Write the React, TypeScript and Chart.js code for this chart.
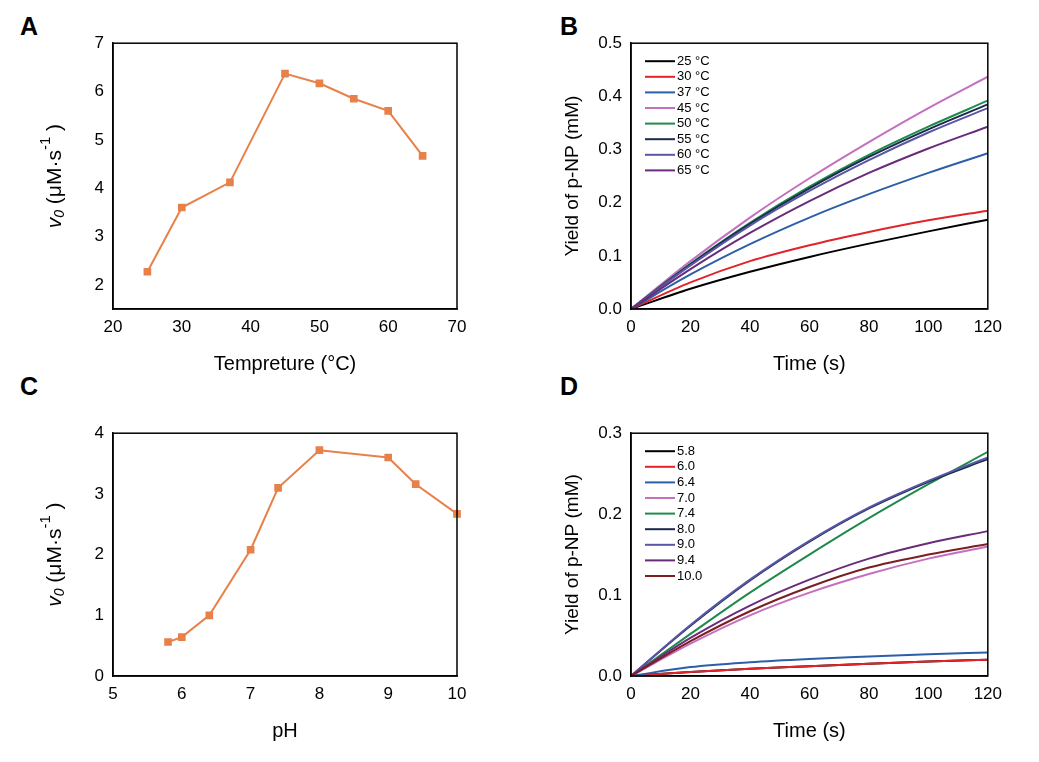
import React, { useEffect, useRef } from "react";
import { Chart, registerables } from "chart.js";
Chart.register(...registerables);

const tempX = [25, 30, 37, 45, 50, 55, 60, 65];
const tempV = [2.27, 3.6, 4.12, 6.37, 6.17, 5.85, 5.6, 4.67];
const phX = [5.8, 6.0, 6.4, 7.0, 7.4, 8.0, 9.0, 9.4, 10.0];
const phV = [0.56, 0.64, 1.0, 2.08, 3.1, 3.72, 3.6, 3.16, 2.67];
const timeS = [0, 20, 40, 60, 80, 100, 120];
const tempLabels = ["25 °C", "30 °C", "37 °C", "45 °C", "50 °C", "55 °C", "60 °C", "65 °C"];
const tempColors = ["#000000", "#e0242a", "#2d5fa8", "#c46fbf", "#1f8a4c", "#1b2a4e", "#5a56a6", "#6a2c7a"];
const tempYield = [
  [0, 0.038, 0.07, 0.098, 0.123, 0.146, 0.168],
  [0, 0.05, 0.09, 0.12, 0.145, 0.167, 0.185],
  [0, 0.065, 0.122, 0.172, 0.216, 0.256, 0.293],
  [0, 0.09, 0.172, 0.246, 0.314, 0.378, 0.437],
  [0, 0.085, 0.162, 0.23, 0.29, 0.343, 0.392],
  [0, 0.084, 0.16, 0.227, 0.286, 0.338, 0.385],
  [0, 0.082, 0.157, 0.222, 0.28, 0.332, 0.378],
  [0, 0.075, 0.143, 0.203, 0.256, 0.302, 0.343],
];
const phLabels = ["5.8", "6.0", "6.4", "7.0", "7.4", "8.0", "9.0", "9.4", "10.0"];
const phColors = ["#000000", "#e0242a", "#2d5fa8", "#c46fbf", "#1f8a4c", "#1b2a4e", "#5a56a6", "#6a2c7a", "#7a1f22"];
const phYield = [
  [0, 0.005, 0.009, 0.012, 0.015, 0.018, 0.02],
  [0, 0.005, 0.009, 0.012, 0.015, 0.018, 0.02],
  [0, 0.011, 0.017, 0.021, 0.024, 0.027, 0.029],
  [0, 0.04, 0.075, 0.103, 0.126, 0.145, 0.16],
  [0, 0.052, 0.103, 0.15, 0.195, 0.237, 0.277],
  [0, 0.062, 0.118, 0.166, 0.207, 0.24, 0.268],
  [0, 0.063, 0.119, 0.167, 0.208, 0.241, 0.27],
  [0, 0.047, 0.087, 0.119, 0.145, 0.164, 0.179],
  [0, 0.043, 0.08, 0.11, 0.134, 0.15, 0.163],
];

const FONT = "'Liberation Sans', Arial, sans-serif";
const ORANGE = "#e8804a";

type P = {
  left: number; top: number; w: number; h: number;
  datasets: any[]; xMin: number; xMax: number; xStep: number;
  yMin: number; yMax: number; yStep: number; yDec: number;
  xTitle: string; yTitle: "v0" | "yield"; legend?: { labels: string[]; colors: string[] };
};

const onStep = (step: number) => (s: any) => {
  s.ticks = s.ticks.filter((t: any) => Math.abs(t.value / step - Math.round(t.value / step)) < 1e-6);
};

function Panel(p: P) {
  const ref = useRef<HTMLCanvasElement>(null);
  useEffect(() => {
    const plugin = {
      id: "deco",
      afterDraw(c: any) {
        const ctx = c.ctx; const a = c.chartArea;
        ctx.save();
        ctx.strokeStyle = "#000"; ctx.lineWidth = 1.5;
        ctx.strokeRect(a.left, a.top, a.right - a.left, a.bottom - a.top);
        ctx.fillStyle = "#000";
        ctx.translate(a.left - 58, (a.top + a.bottom) / 2);
        ctx.rotate(-Math.PI / 2);
        ctx.textBaseline = "middle";
        if (p.yTitle === "yield") {
          ctx.font = `19px ${FONT}`; ctx.textAlign = "center";
          ctx.fillText("Yield of p-NP (mM)", 0, 0);
        } else {
          const parts: [string, string, number][] = [
            ["v", `italic 21px ${FONT}`, 0], ["0", `italic 14px ${FONT}`, 5],
            [" (μM·s", `21px ${FONT}`, 0], ["-1", `15px ${FONT}`, -9], [" )", `21px ${FONT}`, 0],
          ];
          let tw = 0;
          parts.forEach(([t, f]) => { ctx.font = f; tw += ctx.measureText(t).width; });
          let x = -tw / 2; ctx.textAlign = "left";
          parts.forEach(([t, f, dy]) => { ctx.font = f; ctx.fillText(t, x, dy); x += ctx.measureText(t).width; });
        }
        ctx.restore();
        if (p.legend) {
          ctx.save();
          ctx.font = `13px ${FONT}`; ctx.textBaseline = "middle";
          p.legend.labels.forEach((l, i) => {
            const y = a.top + 18 + i * 15.6;
            ctx.strokeStyle = p.legend!.colors[i]; ctx.lineWidth = 2;
            ctx.beginPath(); ctx.moveTo(a.left + 14, y); ctx.lineTo(a.left + 44, y); ctx.stroke();
            ctx.fillStyle = "#000"; ctx.fillText(l, a.left + 46, y);
          });
          ctx.restore();
        }
      },
    };
    const tickFont = { family: FONT, size: 17 };
    const chart = new Chart(ref.current!, {
      type: "line",
      data: { datasets: p.datasets },
      options: {
        animation: false, responsive: false, maintainAspectRatio: false,
        layout: { padding: { top: 13, right: 14, left: 0, bottom: 0 } },
        plugins: { legend: { display: false }, tooltip: { enabled: false } },
        scales: {
          x: {
            type: "linear", min: p.xMin, max: p.xMax,
            ticks: { stepSize: p.xStep, color: "#000", font: tickFont, padding: 2 },
            grid: { display: false, drawTicks: true, tickLength: 6, tickColor: "#000" } as any,
            border: { color: "#000", width: 1.5 },
            title: { display: true, text: p.xTitle, color: "#000", font: { family: FONT, size: 20 }, padding: { top: 6 } },
            afterBuildTicks: onStep(p.xStep),
            afterFit: (s: any) => { s.height = 71; },
          },
          y: {
            type: "linear", min: p.yMin, max: p.yMax,
            ticks: { stepSize: p.yStep, color: "#000", font: tickFont, padding: 3, callback: (v: any) => Number(v).toFixed(p.yDec) },
            grid: { display: false, drawTicks: true, tickLength: 6, tickColor: "#000" } as any,
            border: { color: "#000", width: 1.5 },
            afterBuildTicks: onStep(p.yStep),
            afterFit: (s: any) => { s.width = 73; },
          },
        },
      },
      plugins: [plugin],
    } as any);
    return () => chart.destroy();
  }, []);
  return (
    <canvas ref={ref} width={p.w} height={p.h}
      style={{ position: "absolute", left: p.left, top: p.top, width: p.w, height: p.h }} />
  );
}

const pts = (xs: number[], ys: number[]) => xs.map((x, i) => ({ x, y: ys[i] }));
const markerSet = (xs: number[], ys: number[]) => [{
  data: pts(xs, ys), borderColor: ORANGE, backgroundColor: ORANGE, borderWidth: 2,
  pointStyle: "rect", pointRadius: 4, tension: 0, clip: false,
}];
const curves = (sets: number[][], colors: string[]) => sets.map((s, i) => ({
  data: pts(timeS, s), borderColor: colors[i], borderWidth: 2, pointRadius: 0, tension: 0.4,
  cubicInterpolationMode: "monotone", order: -i,
}));

const letter = (t: string, left: number, top: number) => (
  <div style={{ position: "absolute", left, top, fontFamily: FONT, fontWeight: "bold", fontSize: 25 }}>{t}</div>
);

export default function App() {
  useEffect(() => { document.body.style.margin = "0"; }, []);
  return (
    <div style={{ position: "relative", width: 1039, height: 762, background: "#fff" }}>
      {letter("A", 20, 12)}{letter("B", 560, 12)}{letter("C", 20, 372)}{letter("D", 560, 372)}
      <Panel left={40} top={30} w={431} h={350} datasets={markerSet(tempX, tempV)}
        xMin={20} xMax={70} xStep={10} yMin={1.5} yMax={7} yStep={1} yDec={0}
        xTitle="Tempreture (°C)" yTitle="v0" />
      <Panel left={558} top={30} w={446} h={350} datasets={curves(tempYield, tempColors)}
        xMin={0} xMax={120} xStep={20} yMin={0} yMax={0.5} yStep={0.1} yDec={1}
        xTitle="Time (s)" yTitle="yield" legend={{ labels: tempLabels, colors: tempColors }} />
      <Panel left={40} top={420} w={431} h={327} datasets={markerSet(phX, phV)}
        xMin={5} xMax={10} xStep={1} yMin={0} yMax={4} yStep={1} yDec={0}
        xTitle="pH" yTitle="v0" />
      <Panel left={558} top={420} w={446} h={327} datasets={curves(phYield, phColors)}
        xMin={0} xMax={120} xStep={20} yMin={0} yMax={0.3} yStep={0.1} yDec={1}
        xTitle="Time (s)" yTitle="yield" legend={{ labels: phLabels, colors: phColors }} />
    </div>
  );
}
